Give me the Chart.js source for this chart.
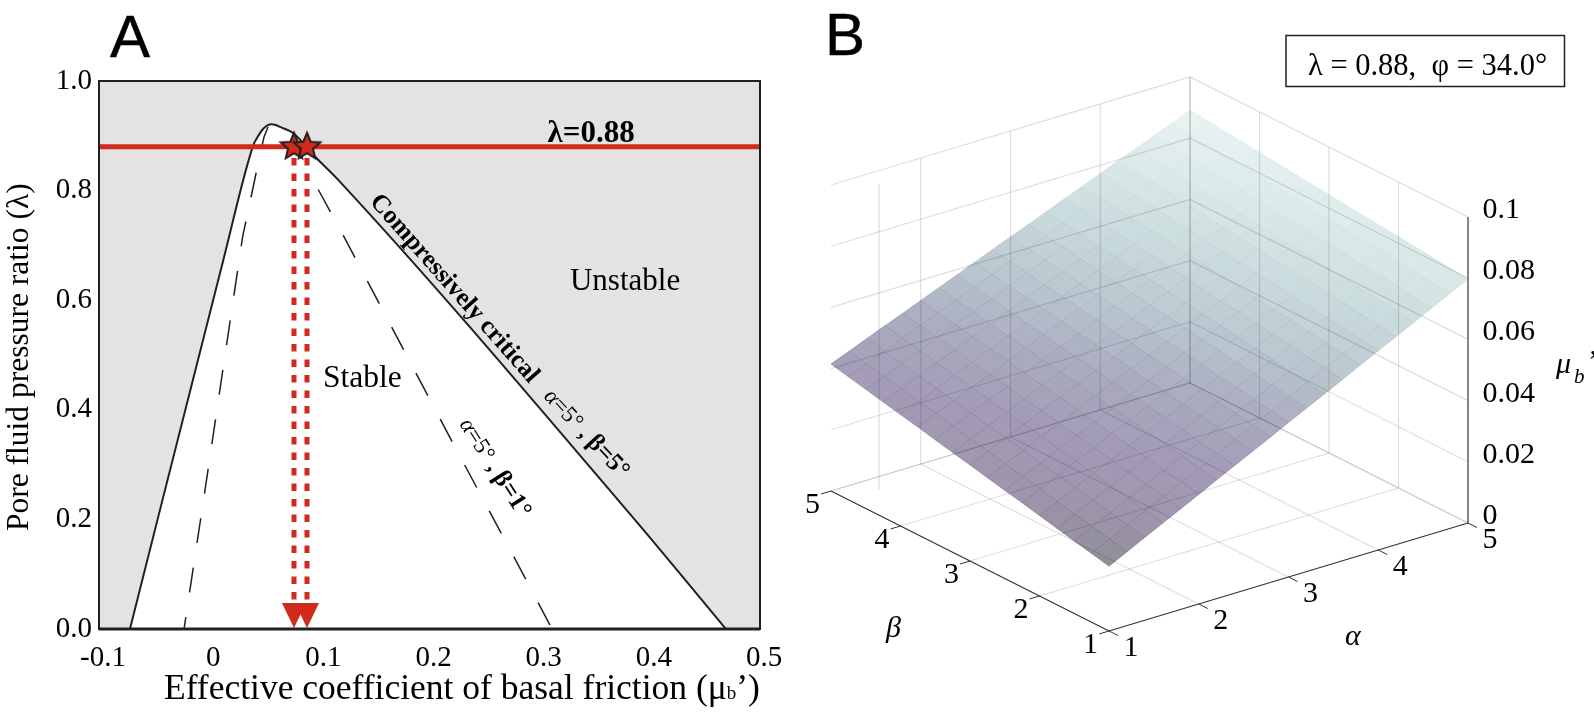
<!DOCTYPE html>
<html>
<head>
<meta charset="utf-8">
<title>Basal friction</title>
<script src="https://cdn.jsdelivr.net/npm/chart.js@4"></script>
<style>
    body { margin: 0; background: #fff; }
    canvas { position: absolute; top: 0; }
    #panelA { left: 0; }
    #panelB { left: 800px; }
</style>
</head>
<body>
<canvas id="panelA" width="800" height="712"></canvas>
<canvas id="panelB" width="794" height="712"></canvas>
<script>
// Panel A values
const xTickLabels = ['-0.1', '0', '0.1', '0.2', '0.3', '0.4', '0.5'];
const yTickLabels = ['0.0', '0.2', '0.4', '0.6', '0.8', '1.0'];
const criticalMu = [-0.0719, 0.0128, 0.0401, 0.0431, 0.0491, 0.0567, 0.0658, 0.0761, 0.0976, 0.1188, 0.3865, 0.469];
const criticalLambda = [0, 0.673, 0.883, 0.895, 0.913, 0.921, 0.915, 0.905, 0.859, 0.816, 0.199, 0];
const dashedLeftMu = [-0.0228, -0.0024, 0.0304, 0.0446, 0.0498, 0.0534];
const dashedLeftLambda = [0, 0.272, 0.716, 0.851, 0.898, 0.916];
const dashedRightMu = [0.099, 0.1215, 0.2213, 0.2776, 0.3112];
const dashedRightLambda = [0.802, 0.719, 0.339, 0.128, 0];
const lambdaLine = 0.88;
const starMu = [0.077, 0.0888];

// Panel B values
const alphaTicks = [1, 2, 3, 4, 5];
const betaTicks = [1, 2, 3, 4, 5];
const muTicks = [0, 0.02, 0.04, 0.06, 0.08, 0.1];
const muTickLabels = ['0', '0.02', '0.04', '0.06', '0.08', '0.1'];
// mu_b': one row per beta (1 to 5 in 0.25 steps), one column per alpha (1 to 5 in 0.2 steps)
const surfaceMu = [
    [.0212, .0241, .0271, .0300, .0329, .0358, .0388, .0417, .0446, .0475, .0505, .0534, .0563, .0592, .0622, .0651, .0680, .0709, .0739, .0768, .0797],
    [.0225, .0254, .0283, .0312, .0341, .0370, .0398, .0427, .0456, .0485, .0514, .0543, .0572, .0601, .0630, .0659, .0687, .0716, .0745, .0774, .0803],
    [.0237, .0266, .0294, .0323, .0351, .0380, .0409, .0437, .0466, .0494, .0523, .0552, .0580, .0609, .0637, .0666, .0695, .0723, .0752, .0780, .0809],
    [.0250, .0278, .0307, .0335, .0363, .0391, .0420, .0448, .0476, .0504, .0533, .0561, .0589, .0617, .0646, .0674, .0702, .0730, .0759, .0787, .0815],
    [.0263, .0291, .0319, .0347, .0375, .0403, .0430, .0458, .0486, .0514, .0542, .0570, .0598, .0626, .0654, .0682, .0709, .0737, .0765, .0793, .0821],
    [.0276, .0304, .0331, .0359, .0386, .0414, .0441, .0469, .0496, .0524, .0552, .0579, .0607, .0634, .0662, .0689, .0717, .0744, .0772, .0799, .0827],
    [.0288, .0315, .0342, .0370, .0397, .0424, .0451, .0478, .0506, .0533, .0560, .0587, .0614, .0642, .0669, .0696, .0723, .0750, .0778, .0805, .0832],
    [.0301, .0328, .0355, .0382, .0408, .0435, .0462, .0489, .0516, .0543, .0570, .0596, .0623, .0650, .0677, .0704, .0731, .0757, .0784, .0811, .0838],
    [.0314, .0341, .0367, .0394, .0420, .0447, .0473, .0500, .0526, .0553, .0579, .0606, .0632, .0659, .0685, .0712, .0738, .0765, .0791, .0818, .0844],
    [.0326, .0352, .0378, .0405, .0431, .0457, .0483, .0509, .0536, .0562, .0588, .0614, .0640, .0667, .0693, .0719, .0745, .0771, .0798, .0824, .0850],
    [.0339, .0365, .0391, .0417, .0442, .0468, .0494, .0520, .0546, .0572, .0598, .0623, .0649, .0675, .0701, .0727, .0753, .0778, .0804, .0830, .0856],
    [.0352, .0378, .0403, .0429, .0454, .0480, .0505, .0531, .0556, .0582, .0607, .0633, .0658, .0684, .0709, .0735, .0760, .0786, .0811, .0837, .0862],
    [.0364, .0389, .0414, .0440, .0465, .0490, .0515, .0540, .0566, .0591, .0616, .0641, .0666, .0692, .0717, .0742, .0767, .0792, .0818, .0843, .0868],
    [.0377, .0402, .0427, .0452, .0476, .0501, .0526, .0551, .0576, .0601, .0626, .0650, .0675, .0700, .0725, .0750, .0775, .0799, .0824, .0849, .0874],
    [.0390, .0415, .0439, .0464, .0488, .0513, .0537, .0562, .0586, .0611, .0635, .0660, .0684, .0709, .0733, .0758, .0782, .0807, .0831, .0856, .0880],
    [.0402, .0426, .0450, .0475, .0499, .0523, .0547, .0571, .0596, .0620, .0644, .0668, .0692, .0717, .0741, .0765, .0789, .0813, .0838, .0862, .0886],
    [.0415, .0439, .0463, .0487, .0510, .0534, .0558, .0582, .0606, .0630, .0654, .0677, .0701, .0725, .0749, .0773, .0797, .0820, .0844, .0868, .0892]
];
const colorMu = [0.02, 0.03, 0.04, 0.05, 0.06, 0.07, 0.08, 0.09];
const colorRgb = [[140, 140, 146], [160, 149, 174], [163, 155, 183], [170, 172, 192], [186, 199, 208], [202, 219, 221], [219, 233, 233], [235, 245, 244]];

const SERIF = '"Liberation Serif"';
const SANS = '"Liberation Sans"';
const INK = '#231f20';
const RED = '#cf2a1b';

// 1. Shared helpers
function zip(xs, ys) {
    return xs.map((x, i) => ({ x: x, y: ys[i] }));
}

// draws text runs one after the other along a rotated baseline
function drawRuns(ctx, x, y, angle, runs) {
    ctx.save();
    ctx.translate(x, y);
    ctx.rotate(angle * Math.PI / 180);
    ctx.textAlign = 'left';
    ctx.textBaseline = 'alphabetic';
    ctx.fillStyle = '#000';
    let offset = 0;
    runs.forEach(run => {
        ctx.font = run[1];
        ctx.fillText(run[0], offset, 0);
        offset += ctx.measureText(run[0]).width;
    });
    ctx.restore();
}

function drawPanelLetter(ctx, letter, x, y) {
    ctx.save();
    ctx.font = `60px ${SANS}`;
    ctx.fillStyle = '#000';
    ctx.strokeStyle = '#000';
    ctx.lineWidth = 0.5;
    ctx.fillText(letter, x, y);
    ctx.strokeText(letter, x, y);
    ctx.restore();
}

function starImage(radius) {
    const size = Math.ceil(radius * 2 + 8);
    const c = document.createElement('canvas');
    c.width = size;
    c.height = size;
    const ctx = c.getContext('2d');
    ctx.beginPath();
    for (let i = 0; i < 10; i++) {
        const r = i % 2 ? radius * 0.45 : radius;
        const a = -Math.PI / 2 + i * Math.PI / 5;
        ctx.lineTo(size / 2 + r * Math.cos(a), size / 2 + r * Math.sin(a));
    }
    ctx.closePath();
    ctx.fillStyle = RED;
    ctx.fill();
    ctx.lineWidth = 2;
    ctx.strokeStyle = INK;
    ctx.stroke();
    return c;
}

function arrowImage(width, height) {
    const c = document.createElement('canvas');
    c.width = width;
    c.height = height;
    const ctx = c.getContext('2d');
    ctx.beginPath();
    ctx.moveTo(0, 0);
    ctx.lineTo(width, 0);
    ctx.lineTo(width / 2, height);
    ctx.closePath();
    ctx.fillStyle = RED;
    ctx.fill();
    return c;
}

// 2. Panel A
const panelAText = {
    id: 'panelAText',
    afterDatasetsDraw(chart) {
        const ctx = chart.ctx;
        const { left, top, right, bottom } = chart.chartArea;
        const sx = chart.scales.x;
        const sy = chart.scales.y;
        const at = (mu, lambda) => [sx.getPixelForValue(mu), sy.getPixelForValue(lambda)];

        ctx.save();
        ctx.strokeStyle = INK;
        ctx.lineWidth = 2;
        ctx.strokeRect(left, top, right - left, bottom - top);
        ctx.lineWidth = 3;
        ctx.beginPath();
        ctx.moveTo(left, bottom);
        ctx.lineTo(right, bottom);
        ctx.stroke();
        ctx.restore();

        drawPanelLetter(ctx, 'A', 110, 57);
        drawRuns(ctx, ...at(0.3072, 0.889), 0, [['λ=0.88', `bold 31px ${SERIF}`]]);
        drawRuns(ctx, ...at(0.3275, 0.6186), 0, [['Unstable', `31px ${SERIF}`]]);
        drawRuns(ctx, ...at(0.1033, 0.4416), 0, [['Stable', `31.5px ${SERIF}`]]);
        drawRuns(ctx, ...at(0.1451, 0.779), 48.6, [['Compressively critical', `bold 25.5px ${SERIF}`]]);
        drawRuns(ctx, ...at(0.303, 0.4234), 47, [
            ['α', `italic 23px ${SERIF}`], ['=5°', `23px ${SERIF}`], [' , ', `bold 23px ${SERIF}`], ['β=5°', `bold 25px ${SERIF}`]
        ]);
        drawRuns(ctx, ...at(0.2268, 0.3741), 57.5, [
            ['α', `italic 23px ${SERIF}`], ['=5°', `23px ${SERIF}`], [' , ', `bold 23px ${SERIF}`], ['β=1°', `bold 25px ${SERIF}`]
        ]);

        drawRuns(ctx, 164, 699, 0, [
            ['Effective coefficient of basal friction (μ', `35.5px ${SERIF}`],
            ['b', `19px ${SERIF}`],
            ['’)', `35.5px ${SERIF}`]
        ]);
        drawRuns(ctx, 28, 531, -90, [['Pore fluid pressure ratio (λ)', `31.5px ${SERIF}`]]);
    }
};

const panelADatasets = [
    { data: zip([-0.1, 0.5], [1, 1]), borderWidth: 0, backgroundColor: '#e4e3e2', fill: 'origin', pointRadius: 0, showLine: true, order: 9 },
    {
        data: zip(criticalMu, criticalLambda), borderColor: INK, borderWidth: 2, backgroundColor: '#fff', fill: 'origin',
        cubicInterpolationMode: 'monotone', pointRadius: 0, showLine: true, order: 8
    },
    { data: zip(dashedLeftMu, dashedLeftLambda), borderColor: INK, borderWidth: 1.5, borderDash: [25, 25], borderDashOffset: 13, pointRadius: 0, showLine: true, order: 7 },
    { data: zip(dashedRightMu, dashedRightLambda), borderColor: INK, borderWidth: 1.5, borderDash: [25.5, 26.5], pointRadius: 0, showLine: true, order: 7 },
    { data: zip([-0.1, 0.5], [lambdaLine, lambdaLine]), borderColor: RED, borderWidth: 5, pointRadius: 0, showLine: true, order: 5 },
    { data: zip([starMu[0], starMu[0]], [0.8595, 0.0438]), borderColor: RED, borderWidth: 5, borderDash: [7.5, 8], pointRadius: 0, showLine: true, order: 6 },
    { data: zip([starMu[1], starMu[1]], [0.8595, 0.0438]), borderColor: RED, borderWidth: 5, borderDash: [7.5, 8], pointRadius: 0, showLine: true, order: 6 },
    { data: zip(starMu, [0.0246, 0.0246]), pointStyle: arrowImage(24, 25), pointRadius: 10, showLine: false, order: 4 },
    { data: zip([starMu[0]], [lambdaLine]), pointStyle: starImage(14), pointRadius: 10, showLine: false, order: 3 },
    { data: zip([starMu[1]], [lambdaLine]), pointStyle: starImage(14), pointRadius: 10, showLine: false, order: 2 }
];

new Chart(document.getElementById('panelA'), {
    type: 'scatter',
    data: { datasets: panelADatasets },
    plugins: [panelAText],
    options: {
        responsive: false,
        animation: false,
        layout: { padding: { top: 81, right: 40, bottom: 0, left: 0 } },
        plugins: { legend: { display: false }, tooltip: { enabled: false } },
        scales: {
            x: {
                type: 'linear', min: -0.1, max: 0.5,
                afterFit: s => { s.height = 83; },
                grid: { display: false, drawTicks: false },
                border: { display: false },
                afterBuildTicks: s => { s.ticks = xTickLabels.map(t => ({ value: Number(t) })); },
                ticks: {
                    callback: (v, i) => xTickLabels[i], autoSkip: false, maxRotation: 0, labelOffset: 4, padding: 12,
                    color: '#000', font: { family: 'Liberation Serif', size: 29 }
                }
            },
            y: {
                type: 'linear', min: 0, max: 1,
                afterFit: s => { s.width = 99; },
                grid: { display: false, drawTicks: false },
                border: { display: false },
                afterBuildTicks: s => { s.ticks = yTickLabels.map(t => ({ value: Number(t) })); },
                ticks: {
                    callback: (v, i) => yTickLabels[i], autoSkip: false, padding: 7,
                    color: '#000', font: { family: 'Liberation Serif', size: 29 }
                }
            }
        }
    }
});

// 3. Panel B: oblique view of the alpha, beta, mu box on a plain x/y scale
const ORIGIN_X = 309, ORIGIN_Y = 631;
function project(alpha, beta, mu) {
    const a = (alpha - 1) / 4;
    const b = (beta - 1) / 4;
    return {
        x: ORIGIN_X + a * 359 - b * 278,
        y: ORIGIN_Y - a * 108 - b * 140 - mu / 0.1 * 306
    };
}

function surfaceColor(mu) {
    let i = 0;
    while (i < colorMu.length - 2 && mu > colorMu[i + 1]) i++;
    const t = Math.min(1, Math.max(0, (mu - colorMu[i]) / (colorMu[i + 1] - colorMu[i])));
    return colorRgb[i].map((c, k) => c + (colorRgb[i + 1][k] - c) * t);
}

const panelBDatasets = [];
// grid lines multiply over the surface, so they still show through it
function addGrid(points, color, width) {
    panelBDatasets.push({ data: points, borderColor: color, borderWidth: width, pointRadius: 0, showLine: true, order: 3, multiply: true });
}
function addAxis(points, width) {
    panelBDatasets.push({ data: points, borderColor: '#333', borderWidth: width, pointRadius: 0, showLine: true, order: 1 });
}

const GRID = '#dedede';
const GRID_EDGE = '#c6c6c6';

// 3.1. Walls and floor
muTicks.forEach(m => {
    addGrid([project(1, 5, m), project(5, 5, m), project(5, 1, m)], m === 0 ? GRID_EDGE : GRID, 1.2);
});
alphaTicks.slice(1, 4).forEach(a => {
    addGrid([project(a, 5, 0), project(a, 5, 0.1)], GRID, 1.2);
    addGrid([project(a, 1, 0), project(a, 5, 0)], GRID, 1.2);
});
betaTicks.slice(1, 4).forEach(b => {
    addGrid([project(5, b, 0), project(5, b, 0.1)], GRID, 1.2);
    addGrid([project(1, b, 0), project(5, b, 0)], GRID, 1.2);
});
addGrid([project(5, 5, 0), project(5, 5, 0.1)], GRID_EDGE, 1.4);
addGrid([project(1.35, 4.76, 0), project(1.35, 4.76, 0.1)], GRID, 1.2);

// 3.2. Surface cells
for (let r = 0; r < surfaceMu.length - 1; r++) {
    for (let c = 0; c < surfaceMu[r].length - 1; c++) {
        const a0 = 1 + c / 5, a1 = 1 + (c + 1) / 5;
        const b0 = 1 + r / 4, b1 = 1 + (r + 1) / 4;
        const mean = (surfaceMu[r][c] + surfaceMu[r][c + 1] + surfaceMu[r + 1][c] + surfaceMu[r + 1][c + 1]) / 4;
        const rgb = surfaceColor(mean);
        const mesh = Math.max(0.02, 0.36 - mean * 4.2);
        const edge = rgb.map(v => Math.round(v + (55 - v) * mesh));
        panelBDatasets.push({
            data: [
                project(a0, b0, surfaceMu[r][c]),
                project(a1, b0, surfaceMu[r][c + 1]),
                project(a1, b1, surfaceMu[r + 1][c + 1]),
                project(a0, b1, surfaceMu[r + 1][c]),
                project(a0, b0, surfaceMu[r][c])
            ],
            showLine: true,
            fill: 'shape',
            backgroundColor: `rgb(${Math.round(rgb[0])},${Math.round(rgb[1])},${Math.round(rgb[2])})`,
            borderColor: `rgb(${edge[0]},${edge[1]},${edge[2]})`,
            borderWidth: 0.7,
            pointRadius: 0,
            order: 5
        });
    }
}

// 3.3. Axes and tick marks
addAxis([project(1, 1, 0), project(5, 1, 0)], 1.2);
addAxis([project(1, 1, 0), project(1, 5, 0)], 1.2);
addAxis([project(5, 1, 0), project(5, 1, 0.1)], 1.2);
alphaTicks.forEach(a => addAxis([project(a, 1, 0), project(a, 0.87, 0)], 1));
betaTicks.forEach(b => addAxis([project(1, b, 0), project(0.89, b, 0)], 1));

const panelBText = {
    id: 'panelBText',
    beforeDatasetDraw(chart, args) {
        if (chart.data.datasets[args.index].multiply) chart.ctx.globalCompositeOperation = 'multiply';
    },
    afterDatasetDraw(chart) {
        chart.ctx.globalCompositeOperation = 'source-over';
    },
    afterDatasetsDraw(chart) {
        const ctx = chart.ctx;
        const sx = chart.scales.x;
        const sy = chart.scales.y;
        const px = p => [sx.getPixelForValue(p.x), sy.getPixelForValue(p.y)];
        const font = `30px ${SERIF}`;

        const center = (text, p, dx, dy, f) => {
            const [x, y] = px(p);
            ctx.save();
            ctx.font = f;
            ctx.textAlign = 'center';
            ctx.textBaseline = 'middle';
            ctx.fillStyle = '#000';
            ctx.fillText(text, x + dx, y + dy);
            ctx.restore();
        };

        alphaTicks.forEach(a => center(String(a), project(a, 1, 0), 22, 17, font));
        betaTicks.forEach(b => center(String(b), project(1, b, 0), -18.5, 14, font));
        muTicks.forEach((m, i) => {
            const [x, y] = px(project(5, 1, m));
            drawRuns(ctx, x + 14.5, y + 1, 0, [[muTickLabels[i], font]]);
        });

        drawPanelLetter(ctx, 'B', 25, 55);
        drawRuns(ctx, 86, 637, 0, [['β', `italic 30px ${SERIF}`]]);
        drawRuns(ctx, 545, 645, 0, [['α', `italic 30px ${SERIF}`]]);
        drawRuns(ctx, 756, 373, 0, [['μ', `italic 30px ${SERIF}`]]);
        drawRuns(ctx, 774, 383, 0, [['b', `italic 21px ${SERIF}`]]);
        drawRuns(ctx, 788, 370, 0, [['’', `30px ${SERIF}`]]);

        ctx.save();
        ctx.strokeStyle = INK;
        ctx.lineWidth = 1.5;
        ctx.strokeRect(486, 35.5, 278.5, 51);
        ctx.restore();
        drawRuns(ctx, 508, 75, 0, [['λ = 0.88,  φ = 34.0°', `30.5px ${SERIF}`]]);
    }
};

new Chart(document.getElementById('panelB'), {
    type: 'scatter',
    data: { datasets: panelBDatasets },
    plugins: [panelBText],
    options: {
        responsive: false,
        animation: false,
        plugins: { legend: { display: false }, tooltip: { enabled: false } },
        scales: {
            x: { type: 'linear', min: 0, max: 794, display: false },
            y: { type: 'linear', min: 0, max: 712, reverse: true, display: false }
        }
    }
});
</script>
</body>
</html>
